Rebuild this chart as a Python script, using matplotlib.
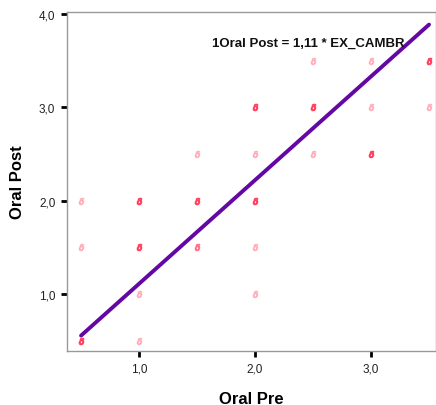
import matplotlib
matplotlib.use("Agg")
from matplotlib import pyplot as plt
import numpy as np

plt.rcParams['font.family'] = ['Liberation Sans', 'DejaVu Sans']

# observed points (oral pre, oral post) and how many cases sit on each spot
pre = [0.5, 0.5, 0.5, 1.0, 1.0, 1.0, 1.0, 1.5, 1.5, 1.5,
       2.0, 2.0, 2.0, 2.0, 2.0, 2.5, 2.5, 2.5, 3.0, 3.0, 3.0, 3.5, 3.5]
post = [0.5, 1.5, 2.0, 0.5, 1.0, 1.5, 2.0, 1.5, 2.0, 2.5,
        1.0, 1.5, 2.0, 2.5, 3.0, 2.5, 3.0, 3.5, 2.5, 3.0, 3.5, 3.0, 3.5]
count = [3, 1, 1, 1, 1, 3, 3, 2, 3, 1,
         1, 1, 3, 1, 3, 1, 3, 1, 3, 1, 1, 1, 3]

slope = 1.11
fit_x = [0.5, 3.5]

fig = plt.figure(figsize=(4.36, 4.06), dpi=100)
ax = fig.add_axes([0.154, 0.133, 0.846, 0.835])

for x, y, n in zip(pre, post, count):
    ax.plot(x, y, marker=r'$\delta$', color='#ff3050', markersize=4.5,
            alpha=min(0.28 * n, 0.9), linestyle='none')

fx = np.array(fit_x)
ax.plot(fx, slope * fx, color='#6408a4', linewidth=2.8, solid_capstyle='round')

ax.text(1.63, 3.69, '1Oral Post = 1,11 * EX_CAMBR', fontsize=9.5,
        fontweight='bold', color='#111111', ha='left', va='center')

ax.set_xlim(0.38, 3.56)
ax.set_ylim(0.39, 4.02)
ax.set_xticks([1, 2, 3])
ax.set_yticks([1, 2, 3, 4])
ax.set_xticklabels(['1,0', '2,0', '3,0'])
ax.set_yticklabels(['1,0', '2,0', '3,0', '4,0'])
ax.tick_params(length=4.5, width=2, color='black', labelsize=8.5, pad=4,
               labelcolor='#222222')

for s in ax.spines.values():
    s.set_color('#999999')
    s.set_linewidth(1)

ax.set_xlabel('Oral Pre', fontsize=12, fontweight='bold', labelpad=12)
ax.set_ylabel('Oral Post', fontsize=12, fontweight='bold', labelpad=10)

fig.savefig('out.png', dpi=100)
